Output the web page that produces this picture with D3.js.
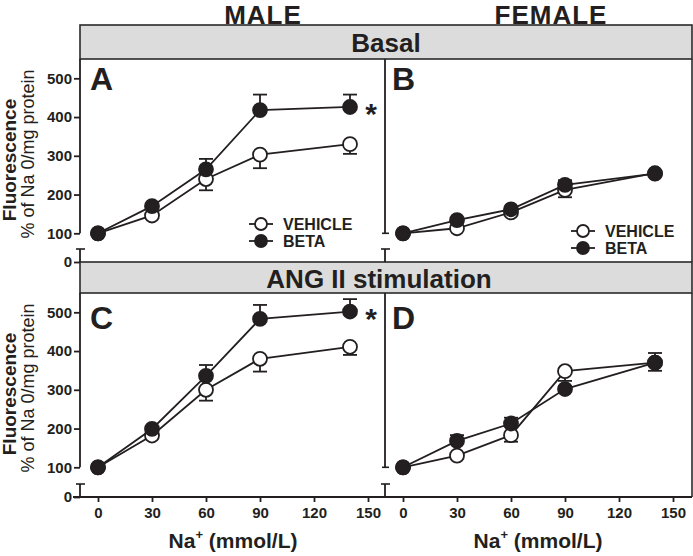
<!DOCTYPE html>
<html>
<head>
<meta charset="utf-8">
<script src="https://cdn.jsdelivr.net/npm/d3@7"></script>
<style>
  html, body { margin: 0; padding: 0; background: #fff; }
  svg { display: block; }
</style>
</head>
<body>
<svg id="chart" width="693" height="556"></svg>
<script>
// ---------------- DATA ----------------
const sodium = [0, 30, 60, 90, 140];            // Na+ (mmol/L)
const xTickValues = [0, 30, 60, 90, 120, 150];
const yTickValues = [100, 200, 300, 400, 500];
const columnTitles = ["MALE", "FEMALE"];
const rowTitles = ["Basal", "ANG II stimulation"];
const panelLetters = ["A", "B", "C", "D"];
const seriesNames = ["VEHICLE", "BETA"];

// A: male basal
const maleBasalVehicle    = [100, 146, 240, 303, 330];
const maleBasalVehicleErr = [0, 0, 29, 35, 25];
const maleBasalBeta       = [100, 170, 265, 418, 426];
const maleBasalBetaErr    = [0, 0, 27, 40, 32];
// B: female basal
const femaleBasalVehicle    = [100, 113, 154, 212, 255];
const femaleBasalVehicleErr = [0, 0, 0, 19, 0];
const femaleBasalBeta       = [100, 134, 162, 225, 254];
const femaleBasalBetaErr    = [0, 0, 0, 12, 0];
// C: male ANG II
const maleAngVehicle    = [100, 182, 300, 380, 411];
const maleAngVehicleErr = [0, 0, 28, 33, 21];
const maleAngBeta       = [100, 199, 336, 483, 502];
const maleAngBetaErr    = [0, 0, 28, 36, 32];
// D: female ANG II
const femaleAngVehicle    = [100, 130, 183, 348, 370];
const femaleAngVehicleErr = [0, 0, 17, 25, 21];
const femaleAngBeta       = [100, 168, 213, 302, 370];
const femaleAngBetaErr    = [0, 15, 15, 8, 25];
// significance markers (per panel)
const significance = ["*", "", "*", ""];

// ---------------- LAYOUT ----------------
const FONT = "'Liberation Sans', Arial, Helvetica, sans-serif";
const INK = "#231f20";
const cols = [
  { axis: 80,  x0: 98,  x150: 368, right: 385, titleX: 263 },
  { axis: 385, x0: 403, x150: 673, right: 692, titleX: 551 }
];
const rows = [
  { hdrTop: 25,  hdrBot: 59,  y100: 233.3, y500: 78.3,  zero: 262, brk: 249, labelY: 52,  labelX: 386, letterY: 90,  fluoY: 160, pctY: 154, starY: 124 },
  { hdrTop: 262, hdrBot: 293, y100: 467.3, y500: 312.3, zero: 497, brk: 484, labelY: 288, labelX: 379, letterY: 329, fluoY: 394, pctY: 388, starY: 329 }
];
const panels = [
  { r: 0, c: 0, veh: maleBasalVehicle,   vehErr: maleBasalVehicleErr,   beta: maleBasalBeta,   betaErr: maleBasalBetaErr,   legend: { x: 261, y: 224 } },
  { r: 0, c: 1, veh: femaleBasalVehicle, vehErr: femaleBasalVehicleErr, beta: femaleBasalBeta, betaErr: femaleBasalBetaErr, legend: { x: 583, y: 231 } },
  { r: 1, c: 0, veh: maleAngVehicle,     vehErr: maleAngVehicleErr,     beta: maleAngBeta,     betaErr: maleAngBetaErr,     legend: null },
  { r: 1, c: 1, veh: femaleAngVehicle,   vehErr: femaleAngVehicleErr,   beta: femaleAngBeta,   betaErr: femaleAngBetaErr,   legend: null }
];

const svg = d3.select("#chart").attr("font-family", FONT);

// Column titles
columnTitles.forEach((t, i) => {
  svg.append("text").attr("x", cols[i].titleX).attr("y", 24)
    .attr("text-anchor", "middle").attr("font-size", 26).attr("font-weight", "bold")
    .attr("letter-spacing", 1).attr("fill", INK).text(t);
});

// Row header boxes
rows.forEach((rw, i) => {
  svg.append("rect").attr("x", 80).attr("y", rw.hdrTop)
    .attr("width", 612).attr("height", rw.hdrBot - rw.hdrTop)
    .attr("fill", "#dcdcdc").attr("stroke", "#2a2a2a").attr("stroke-width", 1.6);
  svg.append("text").attr("x", rw.labelX).attr("y", rw.labelY)
    .attr("text-anchor", "middle").attr("font-size", 26).attr("font-weight", "bold")
    .attr("fill", INK).text(rowTitles[i]);
  // right border of the panel frame
  svg.append("line").attr("x1", 692).attr("x2", 692).attr("y1", rw.hdrBot).attr("y2", rw.zero)
    .attr("stroke", "#2a2a2a").attr("stroke-width", 1.6);
  // y-axis titles
  svg.append("text").attr("transform", `translate(16,${rw.fluoY}) rotate(-90)`)
    .attr("text-anchor", "middle").attr("font-size", 19).attr("font-weight", "bold")
    .attr("fill", INK).text("Fluorescence");
  svg.append("text").attr("transform", `translate(34,${rw.pctY}) rotate(-90)`)
    .attr("text-anchor", "middle").attr("font-size", 18)
    .attr("fill", INK).text("% of Na 0/mg protein");
});

// Bottom x-axis baseline
svg.append("line").attr("x1", 73).attr("x2", 692).attr("y1", rows[1].zero).attr("y2", rows[1].zero)
  .attr("stroke", INK).attr("stroke-width", 1.8);

panels.forEach((p, i) => {
  const rw = rows[p.r], cl = cols[p.c];
  const x = d3.scaleLinear().domain([0, 150]).range([cl.x0, cl.x150]);
  const y = d3.scaleLinear().domain([100, 500]).range([rw.y100, rw.y500]);
  const yLow = d3.scaleLinear().domain([0, 100]).range([rw.zero, rw.y100]);
  const g = svg.append("g");

  // y axis (upper segment)
  g.append("line").attr("x1", cl.axis).attr("x2", cl.axis).attr("y1", rw.hdrBot).attr("y2", y(100))
    .attr("stroke", INK).attr("stroke-width", 1.8);
  // lower segment after break
  g.append("line").attr("x1", cl.axis).attr("x2", cl.axis).attr("y1", rw.brk).attr("y2", rw.zero)
    .attr("stroke", INK).attr("stroke-width", 1.8);
  g.append("line").attr("x1", cl.axis - 4).attr("x2", cl.axis + 5).attr("y1", rw.brk).attr("y2", rw.brk)
    .attr("stroke", INK).attr("stroke-width", 1.6);

  if (p.c === 0) {
    const ax = g.append("g").attr("transform", `translate(${cl.axis},0)`)
      .call(d3.axisLeft(y).tickValues(yTickValues).tickSize(6).tickPadding(2).tickFormat(d3.format("d")));
    const ax0 = g.append("g").attr("transform", `translate(${cl.axis},0)`)
      .call(d3.axisLeft(yLow).tickValues([0]).tickSize(6).tickPadding(2).tickFormat(d3.format("d")));
    [ax, ax0].forEach(a => {
      a.select(".domain").remove();
      a.selectAll("line").attr("stroke", INK).attr("stroke-width", 1.8);
      a.selectAll("text").attr("font-family", FONT).attr("font-size", 15).attr("font-weight", "bold").attr("fill", INK);
    });
  } else {
    g.append("line").attr("x1", cl.axis - 3).attr("x2", cl.axis + 4).attr("y1", y(100)).attr("y2", y(100))
      .attr("stroke", INK).attr("stroke-width", 1.6);
  }

  // x axis in bottom row
  if (p.r === 1) {
    const xa = g.append("g").attr("transform", `translate(0,${rw.zero})`)
      .call(d3.axisBottom(x).tickValues(xTickValues).tickSize(5).tickPadding(5));
    xa.select(".domain").remove();
    xa.selectAll("line").attr("stroke", INK).attr("stroke-width", 1.8);
    xa.selectAll("text").attr("font-family", FONT).attr("font-size", 15).attr("font-weight", "bold").attr("fill", INK);
    const t = g.append("text").attr("x", x(75)).attr("y", 548).attr("text-anchor", "middle")
      .attr("font-size", 21).attr("font-weight", "bold").attr("fill", INK);
    t.append("tspan").text("Na");
    t.append("tspan").attr("font-size", 13).attr("dy", -9).text("+");
    t.append("tspan").attr("dy", 9).text(" (mmol/L)");
  }

  // panel letter
  g.append("text").attr("x", cl.axis + 10 + (p.c ? -3 : 0)).attr("y", rw.letterY)
    .attr("font-size", 32).attr("font-weight", "bold").attr("fill", INK).text(panelLetters[i]);

  const line = d3.line().x((d, j) => x(sodium[j])).y(d => y(d));
  const series = [
    { vals: p.veh, err: p.vehErr, dir: 1, fill: "#fff" },
    { vals: p.beta, err: p.betaErr, dir: -1, fill: INK }
  ];
  // error bars
  series.forEach(s => {
    s.vals.forEach((v, j) => {
      if (!s.err[j]) return;
      const yEnd = y(v - s.dir * s.err[j]);
      g.append("line").attr("x1", x(sodium[j])).attr("x2", x(sodium[j])).attr("y1", y(v)).attr("y2", yEnd)
        .attr("stroke", INK).attr("stroke-width", 1.8);
      g.append("line").attr("x1", x(sodium[j]) - 7).attr("x2", x(sodium[j]) + 7).attr("y1", yEnd).attr("y2", yEnd)
        .attr("stroke", INK).attr("stroke-width", 1.8);
    });
  });
  // lines
  series.forEach(s => {
    g.append("path").datum(s.vals).attr("d", line).attr("fill", "none")
      .attr("stroke", INK).attr("stroke-width", 1.8);
  });
  // markers
  series.forEach(s => {
    g.selectAll(null).data(s.vals).enter().append("circle")
      .attr("cx", (d, j) => x(sodium[j])).attr("cy", d => y(d)).attr("r", 7)
      .attr("fill", s.fill).attr("stroke", INK).attr("stroke-width", 1.8);
  });

  // significance marker
  if (significance[i]) {
    g.append("text").attr("x", x(140) + 21).attr("y", rw.starY).attr("text-anchor", "middle")
      .attr("font-size", 30).attr("font-weight", "bold").attr("fill", INK).text(significance[i]);
  }

  // legend
  if (p.legend) {
    seriesNames.forEach((name, k) => {
      const ly = p.legend.y + k * 17;
      g.append("line").attr("x1", p.legend.x - 12).attr("x2", p.legend.x + 12).attr("y1", ly).attr("y2", ly)
        .attr("stroke", INK).attr("stroke-width", 1.8);
      g.append("circle").attr("cx", p.legend.x).attr("cy", ly).attr("r", 6)
        .attr("fill", k === 0 ? "#fff" : INK).attr("stroke", INK).attr("stroke-width", 1.8);
      g.append("text").attr("x", p.legend.x + 22).attr("y", ly + 6)
        .attr("font-size", 16).attr("font-weight", "bold").attr("fill", INK).text(name);
    });
  }
});
</script>
</body>
</html>
